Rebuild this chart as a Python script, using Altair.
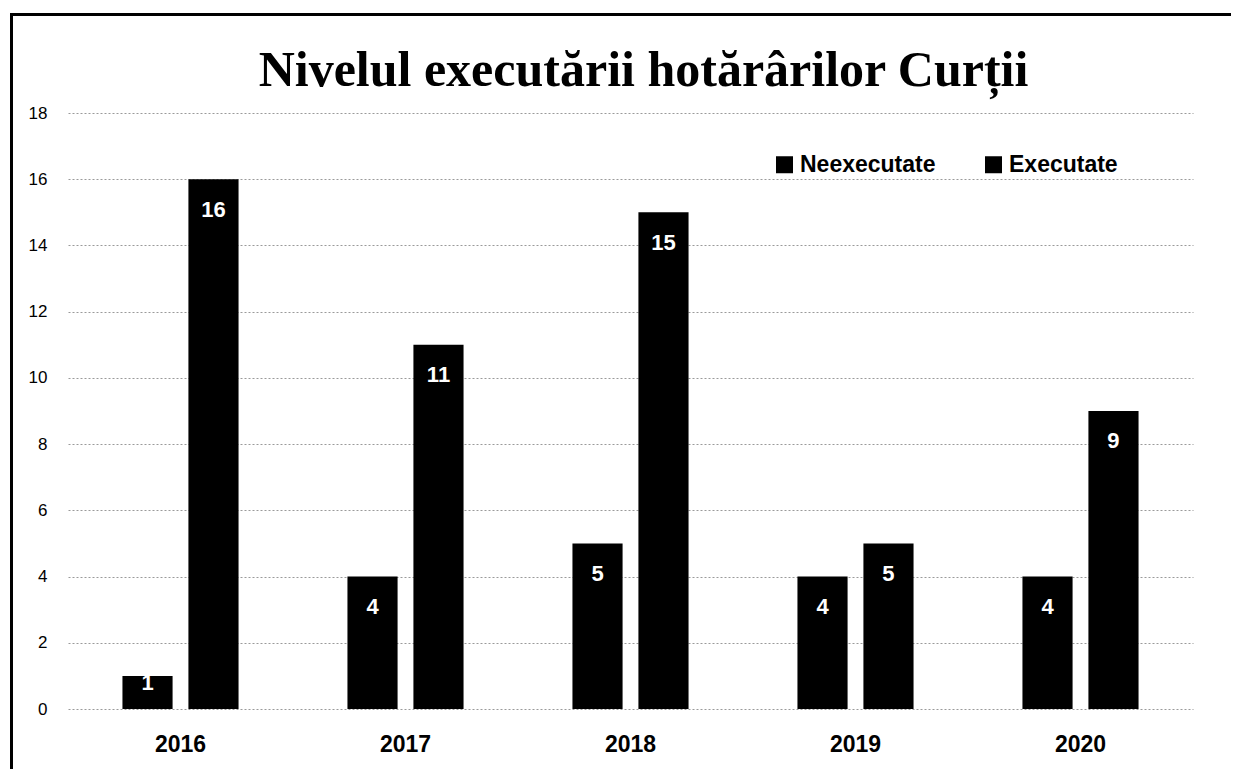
import altair as alt
import pandas as pd

years = ["2016", "2017", "2018", "2019", "2020"]
series = ["Neexecutate", "Executate"]
neexecutate = [1, 4, 5, 4, 4]
executate = [16, 11, 15, 5, 9]
y_ticks = [0, 2, 4, 6, 8, 10, 12, 14, 16, 18]
title_text = "Nivelul executării hotărârilor Curții"

rows = []
for i, yr in enumerate(years):
    rows.append({"year": yr, "series": series[0], "value": neexecutate[i]})
    rows.append({"year": yr, "series": series[1], "value": executate[i]})
df = pd.DataFrame(rows)

x_enc = alt.X("year:N", sort=years, title=None,
              scale=alt.Scale(paddingInner=0.484, paddingOuter=0.242),
              axis=alt.Axis(labelFont="Liberation Sans", labelFontSize=23,
                            labelFontWeight="bold", labelColor="black",
                            labelAngle=0, labelPadding=24, ticks=False,
                            tickSize=0, domain=False, grid=False))
xoff = alt.XOffset("series:N", sort=series,
                   scale=alt.Scale(paddingInner=0.24, paddingOuter=0))

bars = alt.Chart(df).mark_bar(color="black").encode(
    x=x_enc,
    xOffset=xoff,
    y=alt.Y("value:Q", title=None,
            scale=alt.Scale(domain=[0, 18], nice=False),
            axis=alt.Axis(values=y_ticks, labelFont="Liberation Sans",
                          labelFontSize=17, labelColor="black",
                          labelPadding=21, ticks=False, tickSize=0,
                          domain=False, grid=True, gridColor="#9a9a9a",
                          gridDash=[2, 2], gridWidth=1)),
    color=alt.Color("series:N", sort=series,
                    scale=alt.Scale(domain=series, range=["black", "black"]),
                    legend=alt.Legend(title=None, orient="none",
                                      direction="horizontal",
                                      legendX=705, legendY=40,
                                      symbolType="square", symbolSize=289,
                                      symbolStrokeWidth=0,
                                      labelFont="Liberation Sans",
                                      labelFontSize=23, labelFontWeight="bold",
                                      labelColor="black", labelOffset=4,
                                      columnPadding=46, padding=0)),
)

labels = alt.Chart(df).transform_calculate(
    pos="max(datum.value - 0.92, 0.8)"
).mark_text(color="white", font="Liberation Sans", fontSize=22,
            fontWeight="bold", baseline="middle", align="center").encode(
    x=alt.X("year:N", sort=years, title=None),
    xOffset=xoff,
    y=alt.Y("pos:Q", title=None),
    text=alt.Text("value:Q"),
)

title_df = pd.DataFrame({"t": [title_text]})
title = alt.Chart(title_df).mark_text(
    font="Liberation Serif", fontSize=50, fontWeight="bold", color="black",
    align="center", baseline="alphabetic").encode(
    x=alt.value(575.5), y=alt.value(-27), text="t:N")

frame_df = pd.DataFrame({"k": [0]})
frame_top = alt.Chart(frame_df).mark_rule(color="black", strokeWidth=3).encode(
    x=alt.value(-57), x2=alt.value(1200), y=alt.value(-98.5))
frame_left = alt.Chart(frame_df).mark_rule(color="black", strokeWidth=3).encode(
    x=alt.value(-56.5), y=alt.value(-100), y2=alt.value(700))

chart = alt.layer(bars, labels, title, frame_top, frame_left).properties(
    width=1125, height=596,
    background="white",
    autosize=alt.AutoSizeParams(type="none"),
    padding={"left": 60, "top": 105, "right": 38, "bottom": 60},
).configure_view(stroke="transparent", strokeWidth=0)

chart.save("out.html", embed_options={"renderer": "svg", "actions": False})
